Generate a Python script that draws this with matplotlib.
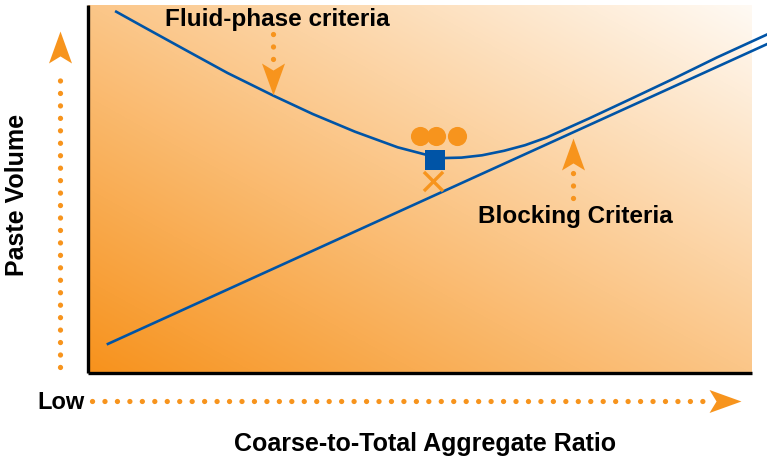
import numpy as np
import matplotlib
matplotlib.use("Agg")
import matplotlib.pyplot as plt
from matplotlib.path import Path

# ---- data (x = coarse-to-total aggregate ratio, y = paste volume, both 0..1 inside the box)
fluid_x = [0.0425, 0.0821, 0.1461, 0.2102, 0.2794, 0.3384, 0.4021, 0.4664, 0.5113,
           0.5377, 0.5625, 0.5934, 0.6265, 0.6581, 0.6907, 0.7545, 0.8188, 0.8825,
           0.9470, 1.0226]
fluid_y = [0.9818, 0.9421, 0.8785, 0.8152, 0.7535, 0.7038, 0.6557, 0.6133, 0.5921,
           0.5842, 0.5853, 0.5916, 0.6038, 0.6190, 0.6399, 0.6916, 0.7459, 0.8003,
           0.8573, 0.9198]
block_x = [0.030, 1.023]
block_y = [0.079, 0.894]

circles_x = [0.500, 0.524, 0.555]
circles_y = [0.643, 0.643, 0.645]
square_xy = (0.523, 0.579)
cross_xy = (0.520, 0.522)

orange = "#F7941D"
blue = "#0054A6"

# ---- figure in pixel-like layout: box spans x 88..752 px, y 6..374 px
fig = plt.figure(figsize=(7.67, 4.60), dpi=100)
ax = fig.add_axes([0, 0, 1, 1])
ax.set_xlim(-88 / 664, 679 / 664)
ax.set_ylim(-86 / 368, 374 / 368)
ax.axis("off")

# gradient background
n = 300
gx, gy = np.meshgrid(np.linspace(0, 1, n), np.linspace(0, 1, n))
t = (gx + gy) / 2
c0 = np.array([247, 146, 28]) / 255
c1 = np.array([255, 250, 244]) / 255
img = c0[None, None, :] * (1 - t[..., None]) + c1[None, None, :] * t[..., None]
ax.imshow(img, extent=[0, 1, 0, 1], origin="lower", aspect="auto", zorder=0)

# box borders (left + bottom)
ax.plot([0, 0], [0, 1], color="black", lw=2.4, solid_capstyle="butt", zorder=3)
ax.plot([0, 1], [0, 0], color="black", lw=2.4, solid_capstyle="butt", zorder=3)

# curves
ax.plot(fluid_x, fluid_y, color=blue, lw=1.9, zorder=4, clip_on=False,
        solid_joinstyle="round")
ax.plot(block_x, block_y, color=blue, lw=1.9, zorder=4, clip_on=False)

# markers
ax.scatter(circles_x, circles_y, s=190, color=orange, zorder=5, linewidths=0)
ax.scatter([square_xy[0]], [square_xy[1]], marker="s", s=190, color=blue, zorder=6, linewidths=0)
ax.scatter([cross_xy[0]], [cross_xy[1]], marker="x", s=190, color=orange, zorder=5, linewidths=2.4)


def head(angle):
    v = np.array([[0, 0.5], [0.36, -0.5], [0, -0.28], [-0.36, -0.5], [0, 0.5]])
    a = np.deg2rad(angle)
    r = np.array([[np.cos(a), -np.sin(a)], [np.sin(a), np.cos(a)]])
    return Path(v @ r.T, [Path.MOVETO, Path.LINETO, Path.LINETO, Path.LINETO, Path.CLOSEPOLY])


def dotted_arrow(xs, ys, hx, hy, angle):
    ax.plot(xs, ys, color=orange, lw=3.8, ls=(0, (0.01, 2.35)),
            dash_capstyle="round", zorder=5, clip_on=False)
    ax.plot([hx], [hy], marker=head(angle), ms=23, color=orange, mew=0,
            zorder=5, clip_on=False)


# axis arrows
dotted_arrow([-0.042, -0.042], [0.016, 0.826], -0.042, 0.886, 0)
dotted_arrow([0.006, 0.94], [-0.076, -0.076], 0.959, -0.076, -90)
# pointer arrows
dotted_arrow([0.2786, 0.2786], [0.921, 0.848], 0.2786, 0.799, 180)
dotted_arrow([0.730, 0.730], [0.4755, 0.549], 0.730, 0.595, 0)

# text
font = dict(fontweight="bold", color="black", family="Liberation Sans")
ax.text(0.116, 0.962, "Fluid-phase criteria", ha="left", va="center", fontsize=17.5, **font)
ax.text(0.587, 0.427, "Blocking Criteria", ha="left", va="center", fontsize=17.5, **font)
ax.text(-0.107, 0.486, "Paste Volume", ha="center", va="center", rotation=90, fontsize=18, **font)
ax.text(-0.0045, -0.078, "Low", ha="right", va="center", fontsize=17, **font)
ax.text(0.5075, -0.19, "Coarse-to-Total Aggregate Ratio", ha="center", va="center",
        fontsize=18, **font)

fig.savefig("out.png", dpi=100)
